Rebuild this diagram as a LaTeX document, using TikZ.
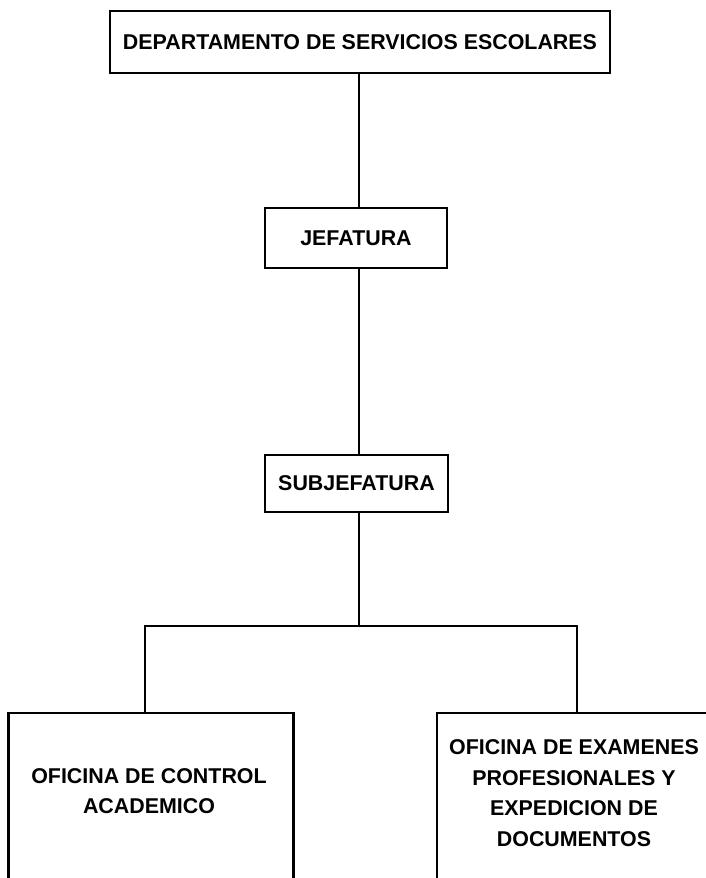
\documentclass[tikz,border=0pt]{standalone}
\usepackage{fontspec}
\setmainfont{Liberation Sans}
\begin{document}
\begin{tikzpicture}[x=1pt,y=-1pt,
  box/.style={draw, line width=2.3pt, inner sep=0pt, font=\fontsize{21.4}{30.5}\selectfont\bfseries, align=center},
  txt/.style={inner sep=0pt, font=\fontsize{21.4}{30.5}\selectfont\bfseries, align=center},
  wire/.style={line width=2.3pt}]
\useasboundingbox (0,0) rectangle (706,878);
\clip (0,0) rectangle (706,878);
\node[box, minimum width=500pt, minimum height=62pt] (dep) at (360,42) {DEPARTAMENTO DE SERVICIOS ESCOLARES};
\node[box, minimum width=182pt, minimum height=60pt] (jef) at (356,238) {JEFATURA};
\node[box, minimum width=183pt, minimum height=57pt] (sub) at (356.5,483.5) {SUBJEFATURA};
\node[box, minimum width=285pt, minimum height=220pt, anchor=north] (oca) at (151,712) {};
\node[txt] (ocat) at (149,791) {OFICINA DE CONTROL\\ACADEMICO};
\node[box, minimum width=280pt, minimum height=220pt, anchor=north] (oep) at (577,712) {};
\node[txt] (oept) at (574,793) {OFICINA DE EXAMENES\\PROFESIONALES Y\\EXPEDICION DE\\DOCUMENTOS};
\coordinate (split) at (359,626);
\coordinate (lft) at (145,626);
\coordinate (rgt) at (577,626);
\draw[wire] (dep.south -| split) -- (jef.north -| split);
\draw[wire] (jef.south -| split) -- (sub.north -| split);
\draw[wire] (sub.south -| split) -- (split);
\draw[wire] (lft |- oca.north) -- (lft) -- (rgt) -- (oep.north);
\end{tikzpicture}
\end{document}
